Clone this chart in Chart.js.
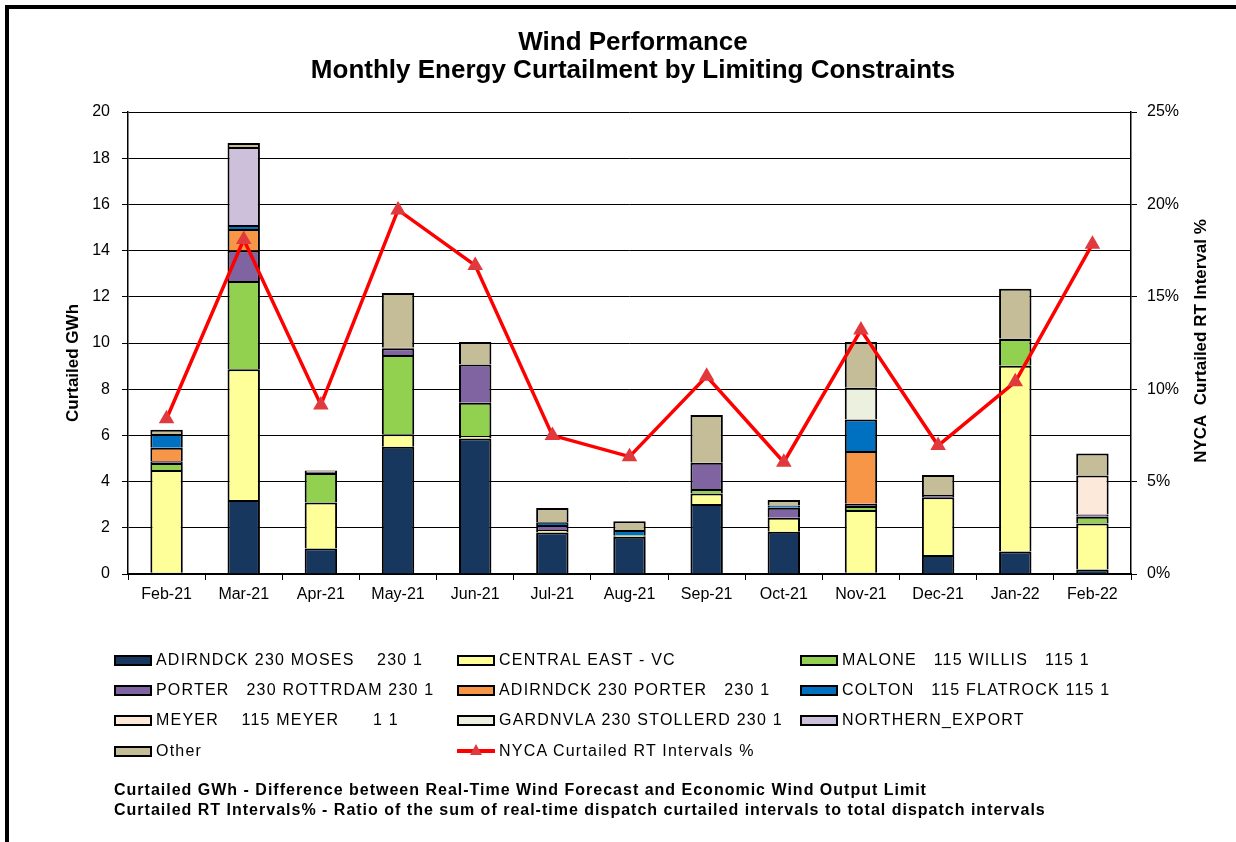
<!DOCTYPE html>
<html>
<head>
<meta charset="utf-8">
<script src="https://cdn.jsdelivr.net/npm/chart.js@4.4.1/dist/chart.umd.min.js"></script>
<style>
    body { margin: 0; background: #fff; overflow: hidden; font-family: 'Liberation Sans', Arial, sans-serif; }
    #frame { position: absolute; left: 5px; top: 5px; width: 1300px; height: 900px; border: 4px solid #000; }
    #wrap { position: absolute; left: 0; top: 0; width: 1236px; height: 842px; }
    .leg { position: absolute; font-size: 16px; letter-spacing: 1.2px; white-space: pre; line-height: 20px; color: #000; }
    .sw { position: absolute; width: 38px; height: 11px; box-sizing: border-box; border: 2px solid #000; }
    .note { position: absolute; left: 114px; font-size: 16px; letter-spacing: 1px; line-height: 20px; font-weight: bold; white-space: pre; }
</style>
</head>
<body>
<div id="frame"></div>
<div id="wrap"><canvas id="grafico"></canvas></div>
<div id="legenda"></div>
<div class="note" style="top:780px">Curtailed GWh - Difference between Real-Time Wind Forecast and Economic Wind Output Limit</div>
<div class="note" style="top:800px">Curtailed RT Intervals% - Ratio of the sum of real-time dispatch curtailed intervals to total dispatch intervals</div>
<script>
const meses = ['Feb-21', 'Mar-21', 'Apr-21', 'May-21', 'Jun-21', 'Jul-21', 'Aug-21',
    'Sep-21', 'Oct-21', 'Nov-21', 'Dec-21', 'Jan-22', 'Feb-22'];

// GWh per constraint, bottom of stack first
const adirMoses      = [0.05, 3.2, 1.1, 5.51, 5.87, 1.8, 1.61, 3.03, 1.83, 0.05, 0.82, 0.97, 0.2];
const centralEast    = [4.45, 5.66, 2.0, 0.54, 0.1, 0.1, 0.05, 0.46, 0.61, 2.72, 2.5, 8.05, 1.99];
const malone         = [0.3, 3.82, 1.27, 3.43, 1.44, 0, 0.03, 0.19, 0, 0.17, 0, 1.15, 0.29];
const porter         = [0.08, 1.32, 0.05, 0.29, 1.66, 0.22, 0, 1.14, 0.43, 0.1, 0.1, 0.03, 0.1];
const adirPorter     = [0.58, 0.94, 0, 0.04, 0, 0, 0, 0, 0, 2.28, 0, 0, 0];
const colton         = [0.6, 0.17, 0, 0, 0, 0.12, 0.21, 0, 0.1, 1.37, 0, 0, 0];
const meyer          = [0, 0, 0, 0, 0, 0, 0, 0, 0, 0, 0, 0, 1.68];
const gardnvla       = [0, 0, 0, 0, 0, 0, 0, 0, 0, 1.37, 0, 0, 0];
const northernExport = [0, 3.37, 0, 0, 0, 0, 0, 0, 0, 0, 0, 0, 0];
const outros         = [0.18, 0.18, 0.06, 2.35, 0.97, 0.62, 0.38, 2.06, 0.23, 1.98, 0.87, 2.15, 0.96];

// NYCA curtailed RT intervals, percent
const intervalos = [8.4, 18.1, 9.15, 19.7, 16.7, 7.5, 6.35, 10.7, 6.05, 13.2, 6.95, 10.4, 17.85];

const ticksGWh = [0, 2, 4, 6, 8, 10, 12, 14, 16, 18, 20];
const ticksPct = [0, 5, 10, 15, 20, 25];

const fonte = "'Liberation Sans', Arial, sans-serif";
Chart.defaults.font.family = fonte;
Chart.defaults.color = '#000';

function criarBarra(label, dados, cor) {
    return {
        type: 'bar',
        label: label,
        data: dados,
        backgroundColor: cor,
        borderColor: '#000',
        borderWidth: 2,
        barPercentage: 0.42,
        categoryPercentage: 1,
        yAxisID: 'y',
        order: 1
    };
}

const datasets = [
    criarBarra('ADIRNDCK 230 MOSES    230 1', adirMoses, '#17375E'),
    criarBarra('CENTRAL EAST - VC', centralEast, '#FFFF99'),
    criarBarra('MALONE   115 WILLIS   115 1', malone, '#92D050'),
    criarBarra('PORTER   230 ROTTRDAM 230 1', porter, '#8064A2'),
    criarBarra('ADIRNDCK 230 PORTER   230 1', adirPorter, '#F79646'),
    criarBarra('COLTON   115 FLATROCK 115 1', colton, '#0070C0'),
    criarBarra('MEYER    115 MEYER      1 1', meyer, '#FDE9D9'),
    criarBarra('GARDNVLA 230 STOLLERD 230 1', gardnvla, '#EBF1DE'),
    criarBarra('NORTHERN_EXPORT', northernExport, '#CCC0DA'),
    criarBarra('Other', outros, '#C4BD97'),
    {
        type: 'line',
        label: 'NYCA Curtailed RT Intervals %',
        data: intervalos,
        borderColor: '#FF0000',
        borderWidth: 3.5,
        pointStyle: 'triangle',
        pointRadius: 5.5,
        pointBackgroundColor: '#E0393E',
        pointBorderColor: '#E0393E',
        tension: 0,
        yAxisID: 'y1',
        order: 0
    }
];

// axis titles: both read bottom to top
const titulosEixos = {
    id: 'titulosEixos',
    afterDraw(chart) {
        const c = chart.ctx;
        const a = chart.chartArea;
        c.save();
        c.fillStyle = '#000';
        c.font = 'bold 17px ' + fonte;
        c.textAlign = 'center';
        c.textBaseline = 'middle';
        c.translate(73, 363);
        c.rotate(-Math.PI / 2);
        c.fillText('Curtailed GWh', 0, 0);
        c.restore();
        c.save();
        c.fillStyle = '#000';
        c.font = 'bold 17px ' + fonte;
        c.textAlign = 'center';
        c.textBaseline = 'middle';
        c.translate(1201, (a.top + a.bottom) / 2 - 2);
        c.rotate(-Math.PI / 2);
        c.fillText('NYCA  Curtailed RT Interval %', 0, 0);
        c.restore();
    }
};

const grafico = new Chart(document.getElementById('grafico').getContext('2d'), {
    data: {
        labels: meses,
        datasets: datasets
    },
    options: {
        responsive: true,
        maintainAspectRatio: false,
        animation: false,
        layout: {
            padding: { left: 30, right: 0, top: 0, bottom: 228 }
        },
        plugins: {
            legend: { display: false },
            tooltip: { enabled: false },
            title: {
                display: true,
                text: ['Wind Performance', 'Monthly Energy Curtailment by Limiting Constraints'],
                color: '#000',
                font: { size: 26, weight: 'bold', lineHeight: 28 / 26 },
                padding: { top: 29, bottom: 27 }
            }
        },
        scales: {
            x: {
                stacked: true,
                afterFit: s => { s.height = 40; },
                grid: { offset: true, drawOnChartArea: false, tickLength: 6, color: '#000' },
                border: { color: '#000', width: 2 },
                ticks: { font: { size: 16 }, padding: 5, maxRotation: 0 }
            },
            y: {
                stacked: true,
                position: 'left',
                min: 0,
                max: 20,
                afterFit: s => { s.width = 98; },
                afterBuildTicks: s => { s.ticks = ticksGWh.map(v => ({ value: v })); },
                grid: { color: '#000', lineWidth: 1, tickLength: 6 },
                border: { color: '#000', width: 1.5 },
                ticks: { font: { size: 16 }, padding: 12 }
            },
            y1: {
                position: 'right',
                min: 0,
                max: 25,
                afterFit: s => { s.width = 105; },
                afterBuildTicks: s => { s.ticks = ticksPct.map(v => ({ value: v })); },
                grid: { drawOnChartArea: false, color: '#000', tickLength: 6 },
                border: { color: '#000', width: 1.5 },
                ticks: { font: { size: 16 }, padding: 10, callback: v => v + '%' }
            }
        }
    },
    plugins: [titulosEixos]
});

// legend in three columns, built from the datasets
const legenda = document.getElementById('legenda');
const colunas = [114, 457, 800];
const linhas = [660, 690, 720, 751];

datasets.forEach(function (ds, i) {
    const x = colunas[i % 3];
    const y = linhas[Math.floor(i / 3)];
    let icone;
    if (ds.type === 'line') {
        icone = '<div style="position:absolute;left:' + x + 'px;top:' + (y - 2) + 'px;width:38px;height:4px;background:' + ds.borderColor + '"></div>' +
            '<div style="position:absolute;left:' + (x + 13) + 'px;top:' + (y - 7) + 'px;width:0;height:0;border-left:6px solid transparent;border-right:6px solid transparent;border-bottom:11px solid ' + ds.pointBackgroundColor + '"></div>';
    } else {
        icone = '<div class="sw" style="left:' + x + 'px;top:' + (y - 5) + 'px;background:' + ds.backgroundColor + '"></div>';
    }
    legenda.insertAdjacentHTML('beforeend', icone +
        '<div class="leg" style="left:' + (x + 42) + 'px;top:' + (y - 10) + 'px">' + ds.label + '</div>');
});
</script>
</body>
</html>
